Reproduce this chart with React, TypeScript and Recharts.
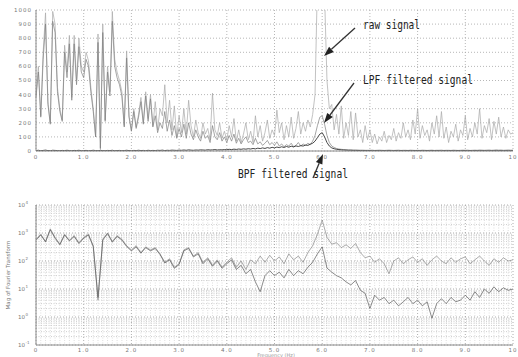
import React from 'react';
import { LineChart, Line, XAxis, YAxis, CartesianGrid } from 'recharts';

// ---------- data ----------
const TOP_STEP = 0.05; // Hz between samples of the top spectra
const BOTTOM_STEP = 0.1; // Hz between samples of the log spectra

const rawSignal = [
  400, 600, 250, 700, 980, 350, 200, 990, 900, 450,
  300, 220, 750, 560, 820, 380, 820, 500, 800, 600,
  560, 700, 640, 450, 300, 100, 830, 10, 900, 220,
  600, 420, 990, 650, 560, 500, 420, 180, 710, 250,
  150, 300, 170, 260, 380, 200, 420, 230, 400, 180,
  350, 150, 300, 250, 470, 200, 360, 150, 320, 100,
  250, 130, 300, 120, 360, 180, 100, 220, 130, 90,
  200, 120, 160, 80, 410, 150, 110, 200, 90, 140,
  80, 180, 100, 230, 70, 150, 60, 120, 200, 80,
  140, 60, 250, 100, 180, 70, 130, 220, 90, 150,
  110, 290, 130, 200, 80, 180, 100, 240, 90, 160,
  280, 120, 200, 140, 220, 170, 260, 400, 1200, 1400,
  1300, 1100, 500, 300, 330, 150, 260, 120, 320, 90,
  200, 110, 280, 80, 270, 100, 150, 60, 180, 80,
  150, 60, 120, 50, 100, 70, 140, 60, 110, 80,
  160, 70, 130, 90, 200, 100, 150, 80, 220, 120,
  300, 90, 180, 110, 150, 70, 200, 120, 250, 100,
  280, 90, 170, 60, 140, 100, 190, 70, 150, 110,
  250, 80, 160, 100, 200, 120, 300, 90, 180, 130,
  230, 80, 210, 120, 240, 100, 170, 90, 150, 120,
  130,
];

const lpfSignal = [
  380, 560, 240, 650, 900, 330, 190, 920, 840, 420,
  280, 210, 700, 520, 760, 360, 760, 470, 740, 560,
  520, 650, 600, 420, 280, 100, 770, 20, 840, 210,
  560, 390, 920, 600, 520, 470, 390, 170, 660, 240,
  140, 280, 160, 240, 350, 190, 390, 210, 370, 170,
  250, 130, 200, 160, 280, 140, 220, 110, 180, 90,
  160, 100, 190, 90, 200, 120, 80, 150, 100, 70,
  140, 90, 110, 60, 180, 100, 80, 130, 70, 100,
  60, 110, 70, 120, 55, 90, 50, 80, 100, 60,
  70, 45, 90, 50, 65, 40, 55, 75, 45, 60,
  40, 65, 35, 50, 30, 45, 35, 55, 30, 40,
  60, 35, 50, 40, 55, 45, 70, 110, 180, 240,
  250, 190, 110, 60, 35, 25, 18, 14, 12, 10,
  9, 8, 8, 7, 7, 6, 6, 6, 5, 5,
  5, 6, 4, 5, 6, 5, 4, 5, 6, 5,
  4, 5, 6, 4, 5, 5, 4, 6, 5, 4,
  5, 4, 6, 5, 4, 5, 6, 4, 5, 5,
  6, 4, 5, 5, 4, 6, 5, 4, 5, 6,
  5, 6, 4, 5, 6, 5, 7, 6, 5, 6,
  7, 5, 6, 8, 6, 7, 5, 6, 7, 6,
  6,
];

const bpfSignal = [
  3, 5, 2, 4, 6, 3, 2, 5, 4, 3,
  2, 4, 3, 5, 3, 2, 4, 3, 5, 2,
  3, 4, 2, 3, 5, 3, 2, 4, 3, 2,
  4, 3, 5, 2, 3, 4, 2, 3, 5, 3,
  2, 4, 3, 5, 3, 4, 2, 5, 3, 4,
  3, 5, 4, 6, 3, 5, 4, 6, 5, 4,
  6, 5, 7, 5, 8, 6, 5, 7, 6, 8,
  7, 6, 9, 7, 8, 10, 7, 9, 8, 10,
  9, 12, 10, 13, 11, 14, 12, 15, 13, 16,
  14, 18, 15, 20, 17, 22, 18, 24, 20, 26,
  22, 28, 24, 30, 25, 32, 27, 34, 29, 36,
  32, 38, 35, 42, 40, 48, 55, 70, 95, 120,
  130, 100, 60, 35, 22, 16, 12, 10, 8, 7,
  6, 5, 5, 4, 4, 4, 3, 3, 3, 3,
  3, 2, 3, 2, 3, 2, 3, 2, 3, 2,
  2, 3, 2, 3, 2, 3, 2, 3, 2, 3,
  3, 2, 3, 2, 3, 2, 3, 2, 3, 2,
  2, 3, 2, 3, 2, 3, 2, 3, 2, 3,
  3, 2, 3, 2, 3, 2, 3, 2, 3, 2,
  2, 3, 2, 3, 2, 3, 2, 3, 2, 3,
  2,
];

const fftRaw = [
  600, 900, 500, 1400, 700, 400, 900, 550, 800, 450,
  700, 900, 350, 4, 600, 1000, 500, 800, 600, 350,
  250, 350, 200, 320, 250, 300, 180, 90, 120, 60,
  80, 250, 300, 150, 200, 90, 130, 70, 110, 60,
  90, 130, 60, 100, 50, 110, 80, 150, 90, 160,
  100, 140, 80, 180, 110, 150, 90, 200, 350, 900,
  2900, 700, 400, 450, 300, 380, 280, 420, 200, 130,
  150, 90, 120, 80, 35, 100, 130, 80, 110, 140,
  90, 120, 70, 110, 150, 100, 80, 130, 90, 120,
  140, 80, 110, 150, 100, 70, 120, 90, 130, 100,
  110,
];

const fftLpf = [
  550, 850, 480, 1300, 650, 380, 850, 520, 750, 420,
  650, 850, 330, 5, 560, 950, 470, 750, 560, 330,
  230, 320, 190, 300, 230, 280, 170, 85, 110, 55,
  75, 230, 280, 140, 180, 80, 120, 65, 100, 55,
  80, 110, 50, 70, 35, 50, 18, 8, 30, 45,
  30, 40, 25, 50, 30, 45, 35, 60, 90, 180,
  320, 56, 40, 30, 25, 18, 14, 20, 9, 7,
  2, 6, 4, 5, 3, 4, 2.5, 3.5, 5, 3,
  4, 2.5, 3.5, 0.9, 3, 4.5, 3, 5, 3.5, 4,
  6, 4, 8, 5, 10, 7, 12, 8, 11, 9,
  10,
];

const freqTicks = [0, 1, 2, 3, 4, 5, 6, 7, 8, 9, 10];
const linearTicks = [0, 100, 200, 300, 400, 500, 600, 700, 800, 900, 1000];
const logTicks = [0.1, 1, 10, 100, 1000, 10000];
const minorMantissas = [2, 3, 4, 5, 6, 7, 8, 9];

// ---------- derived tables ----------
const topData = rawSignal.map((v, i) => ({
  f: Number((i * TOP_STEP).toFixed(2)),
  raw: v,
  lpf: lpfSignal[i],
  bpf: bpfSignal[i],
}));

const bottomData = fftRaw.map((v, i) => ({
  f: Number((i * BOTTOM_STEP).toFixed(1)),
  raw: v,
  lpf: fftLpf[i],
}));

const logMinor: number[] = [];
logTicks.slice(0, -1).forEach((d) => minorMantissas.forEach((m) => logMinor.push(d * m)));
const freqMinor: number[] = [];
for (let k = 1; k < 100; k++) if (k % 10 !== 0) freqMinor.push(k / 10);

const fmtFreq = (v: number) => (v === 0 ? '0' : v === 10 ? '10' : v.toFixed(1));

const LogTick = (props: any) => {
  const { x, y, payload } = props;
  const exp = Math.round(Math.log10(payload.value));
  return (
    <g>
      <text x={x - 7} y={y + 2} textAnchor="end" fontSize={5.5} fill="#777" fontFamily="DejaVu Sans">
        10
      </text>
      <text x={x - 6.5} y={y - 1} textAnchor="start" fontSize={4} fill="#777" fontFamily="DejaVu Sans">
        {exp}
      </text>
    </g>
  );
};

const AXIS = '#8a8a8a';
const tickStyle = { fontSize: 5.5, fill: '#777', letterSpacing: 1, fontFamily: 'DejaVu Sans' };

const Arrow = ({ x1, y1, x2, y2 }: { x1: number; y1: number; x2: number; y2: number }) => {
  const ang = Math.atan2(y2 - y1, x2 - x1);
  const L = 10;
  const W = 3.5;
  const bx = x2 - L * Math.cos(ang);
  const by = y2 - L * Math.sin(ang);
  const px = -Math.sin(ang) * W;
  const py = Math.cos(ang) * W;
  return (
    <g>
      <line x1={x1} y1={y1} x2={bx} y2={by} stroke="#333" strokeWidth={1.3} />
      <polygon points={`${x2},${y2} ${bx + px},${by + py} ${bx - px},${by - py}`} fill="#222" />
    </g>
  );
};

export default function App() {
  return (
    <div
      style={{
        position: 'absolute',
        left: 0,
        top: 0,
        width: 518,
        height: 357,
        background: '#fff',
        overflow: 'hidden',
      }}
    >
      <div style={{ position: 'absolute', left: 0, top: 0 }}>
        <LineChart width={518} height={172} data={topData} margin={{ top: 10, right: 5, bottom: 0, left: 0 }}>
          <CartesianGrid stroke="#a5a5a5" strokeDasharray="1 2" strokeWidth={0.8} />
          <XAxis
            dataKey="f"
            type="number"
            domain={[0, 10]}
            ticks={freqTicks}
            interval={0}
            tickFormatter={fmtFreq}
            tick={tickStyle}
            tickLine={false}
            tickSize={2}
            height={21}
            stroke={AXIS}
          />
          <XAxis xAxisId="top" orientation="top" type="number" domain={[0, 10]} tick={false} tickLine={false} height={0} stroke={AXIS} />
          <YAxis
            type="number"
            domain={[0, 1000]}
            ticks={linearTicks}
            interval={0}
            allowDataOverflow
            tick={tickStyle}
            tickLine={false}
            tickSize={2}
            width={36}
            stroke={AXIS}
          />
          <YAxis yAxisId="right" orientation="right" tick={false} tickLine={false} width={0} stroke={AXIS} />
          <Line dataKey="raw" stroke="#a8a8a8" strokeWidth={0.7} dot={false} isAnimationActive={false} />
          <Line dataKey="lpf" stroke="#808080" strokeWidth={0.7} dot={false} isAnimationActive={false} />
          <Line dataKey="bpf" stroke="#333" strokeWidth={0.9} dot={false} isAnimationActive={false} />
        </LineChart>
      </div>

      <div style={{ position: 'absolute', left: 0, top: 180 }}>
        <LineChart width={518} height={177} data={bottomData} margin={{ top: 25, right: 5, bottom: 0, left: 0 }}>
          <CartesianGrid stroke="#d0d0d0" strokeDasharray="1 1.5" strokeWidth={0.7} horizontal={false} verticalValues={freqMinor} />
          <CartesianGrid stroke="#b8b8b8" strokeDasharray="1 1.5" strokeWidth={0.7} vertical={false} horizontalValues={logMinor} />
          <CartesianGrid stroke="#9a9a9a" strokeDasharray="1 2" strokeWidth={0.8} />
          <XAxis
            dataKey="f"
            type="number"
            domain={[0, 10]}
            ticks={freqTicks}
            interval={0}
            tickFormatter={fmtFreq}
            tick={tickStyle}
            tickLine={false}
            tickSize={1}
            height={12}
            stroke={AXIS}
          />
          <XAxis xAxisId="top" orientation="top" type="number" domain={[0, 10]} tick={false} tickLine={false} height={0} stroke={AXIS} />
          <YAxis
            type="number"
            scale="log"
            domain={[0.1, 10000]}
            ticks={logTicks}
            interval={0}
            allowDataOverflow
            tick={<LogTick />}
            tickLine={false}
            tickSize={2}
            width={36}
            stroke={AXIS}
          />
          <YAxis yAxisId="right" orientation="right" tick={false} tickLine={false} width={0} stroke={AXIS} />
          <Line dataKey="raw" stroke="#888" strokeWidth={0.7} dot={false} isAnimationActive={false} />
          <Line dataKey="lpf" stroke="#5a5a5a" strokeWidth={0.7} dot={false} isAnimationActive={false} />
        </LineChart>
      </div>

      <svg
        width={518}
        height={357}
        style={{ position: 'absolute', left: 0, top: 0, pointerEvents: 'none' }}
        fontFamily="DejaVu Sans Mono"
      >
        <text x={363} y={29} fontSize={13} fill="#222" textLength={57} lengthAdjust="spacingAndGlyphs">
          raw signal
        </text>
        <text x={363} y={84} fontSize={13} fill="#222" textLength={110} lengthAdjust="spacingAndGlyphs">
          LPF filtered signal
        </text>
        <text x={238} y={178} fontSize={13} fill="#222" textLength={110} lengthAdjust="spacingAndGlyphs">
          BPF filtered signal
        </text>
        <Arrow x1={355} y1={28} x2={324} y2={56} />
        <Arrow x1={354} y1={83} x2={324} y2={123} />
        <Arrow x1={313} y1={178} x2={323} y2={154} />
        <text x={276} y={357} fontSize={5} fill="#999" textAnchor="middle" fontFamily="DejaVu Sans">
          Frequency (Hz)
        </text>
        <text
          x={10}
          y={275}
          fontSize={5.5}
          fill="#777"
          textAnchor="middle"
          fontFamily="DejaVu Sans"
          transform="rotate(-90 10 275)"
        >
          Mag of Fourier Transform
        </text>
      </svg>
    </div>
  );
}
